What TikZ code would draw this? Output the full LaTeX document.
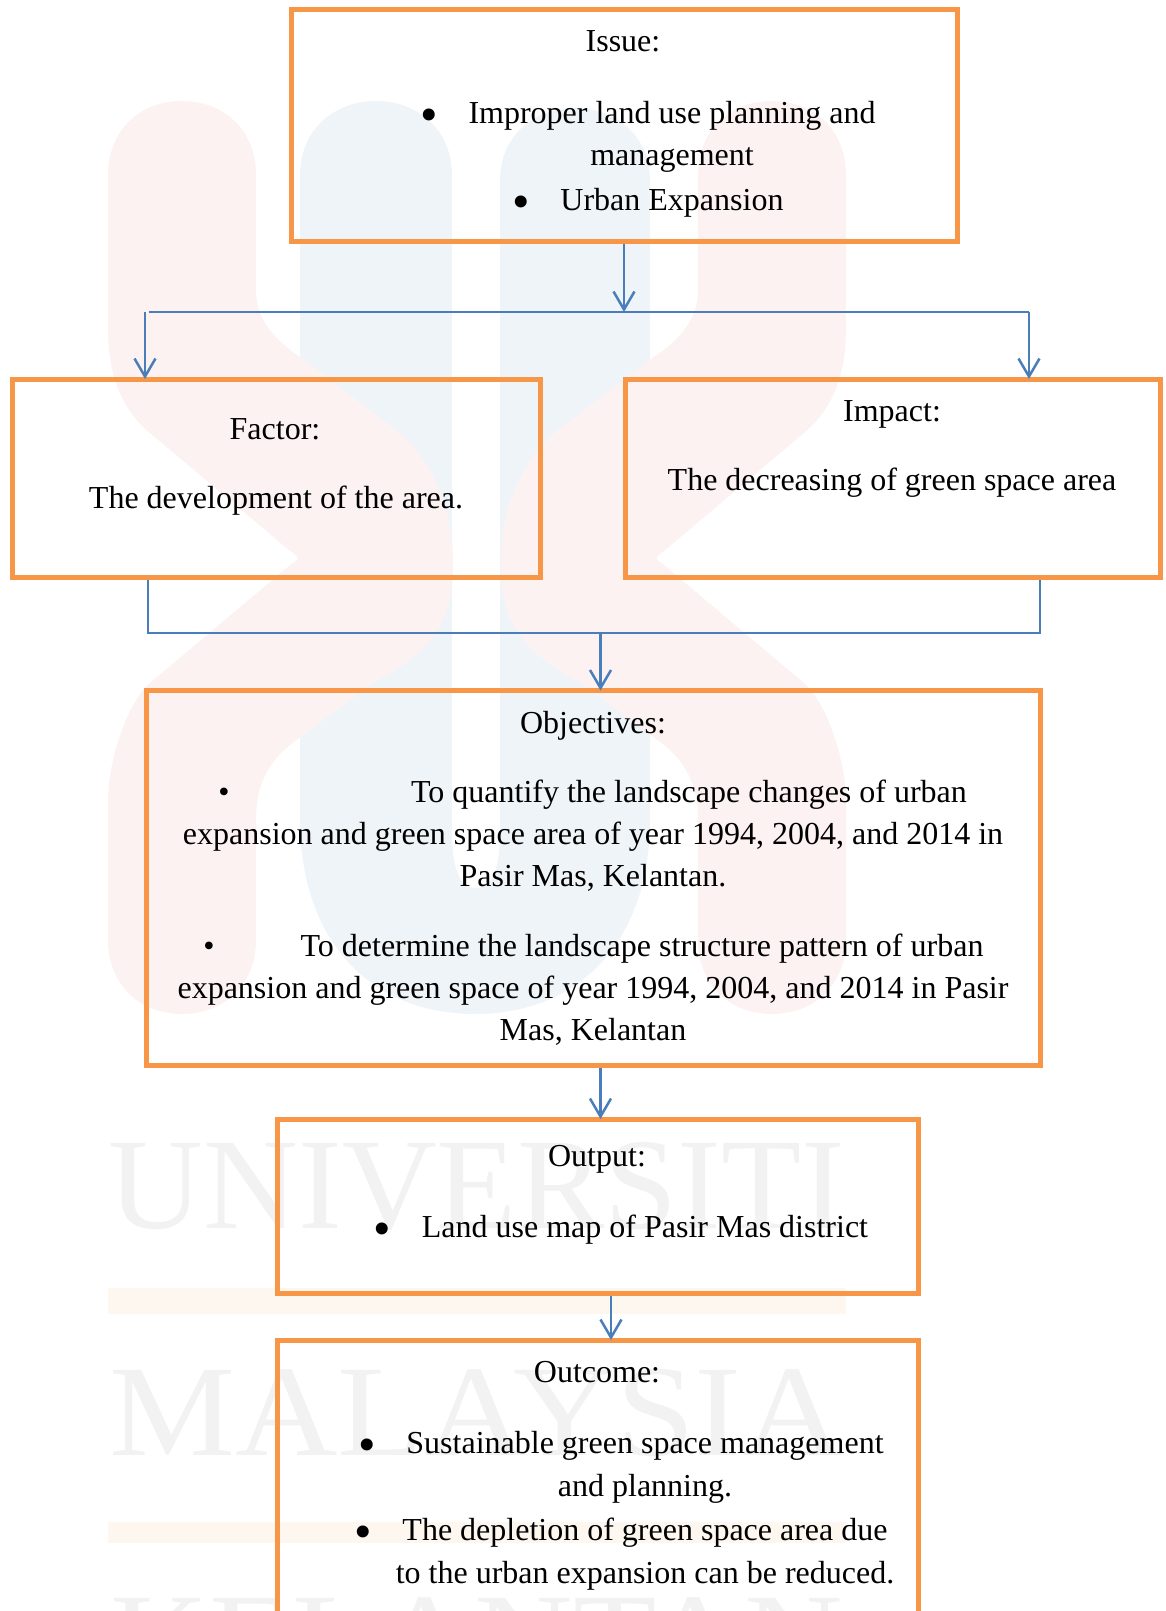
\documentclass[tikz,border=0pt]{standalone}
\usepackage{fontspec}
\usepackage{graphicx}
\setmainfont{Liberation Serif}
\usetikzlibrary{arrows.meta}

\definecolor{boxline}{HTML}{F79646}
\definecolor{linkline}{HTML}{4A7EBB}
\definecolor{wmred}{HTML}{FDF2F2}
\definecolor{wmblue}{HTML}{EFF4F8}
\definecolor{wmgrey}{HTML}{F2F2F2}
\definecolor{wmband}{HTML}{FEF7F0}

\tikzset{
  box/.style={draw=boxline,line width=5pt,inner sep=0pt},
  linetext/.style={anchor=base,inner sep=0pt,font=\fontsize{32}{36}\selectfont},
  bigdot/.style={anchor=base,inner sep=0pt,font=\fontsize{50}{50}\selectfont},
  smalldot/.style={anchor=base,inner sep=0pt,font=\fontsize{32}{36}\selectfont},
  wmtext/.style={anchor=base,inner sep=0pt,text=wmgrey,font=\fontsize{130}{130}\selectfont},
  linkbar/.style={draw=linkline,line width=2pt},
  linkarrow/.style={draw=linkline,line width=2.5pt,shorten >=-2.5pt,-{Straight Barb[length=18pt,width=21pt]}}
}

\newcommand{\redleg}{
  \fill[wmred] (108,175) .. controls (108,130) and (140,101) .. (182,101)
    .. controls (224,101) and (256,130) .. (256,175) -- (256,290)
    .. controls (256,320) and (275,340) .. (300,357) -- (400,433)
    .. controls (435,465) and (453,510) .. (453,565)
    .. controls (453,620) and (435,650) .. (373,683) -- (290,745)
    .. controls (265,765) and (256,790) .. (256,820) -- (256,940)
    .. controls (256,985) and (224,1014) .. (182,1014)
    .. controls (140,1014) and (108,985) .. (108,940) -- (108,800)
    .. controls (108,765) and (125,705) .. (150,683) -- (290,565)
    .. controls (300,558) and (300,558) .. (290,551) -- (150,433)
    .. controls (122,410) and (108,375) .. (108,330) -- cycle;
}

\begin{document}
\begin{tikzpicture}[x=1pt,y=-1pt]
  \useasboundingbox (0,0) rectangle (1166,1611);

  % watermark
  \fill[wmblue] (300,175) .. controls (300,130) and (334,101) .. (376,101)
    .. controls (418,101) and (452,130) .. (452,175) -- (452,830)
    .. controls (452,870) and (460,888) .. (476,888)
    .. controls (492,888) and (500,870) .. (500,830) -- (500,180)
    .. controls (500,137) and (533,108) .. (575,108)
    .. controls (617,108) and (650,137) .. (650,180) -- (650,820)
    .. controls (650,940) and (580,1014) .. (475,1014)
    .. controls (370,1014) and (300,940) .. (300,820) -- cycle;
  \redleg
  \begin{scope}[xshift=954pt,xscale=-1]
    \redleg
  \end{scope}
  \node[wmtext] (wmuni) at (477,1228) {\scalebox{1.01}[1]{UNIVERSITI}};
  \node[wmtext] (wmmal) at (477,1455) {\scalebox{1.09}[1]{MALAYSIA}};
  \node[wmtext] (wmkel) at (477,1683) {\scalebox{1.05}[1]{KELANTAN}};
  \fill[wmband] (108,1288) rectangle (846,1314);
  \fill[wmband] (108,1522) rectangle (846,1543);

  % boxes
  \node[box,minimum width=666pt,minimum height=231pt] (issue) at (624,125.5) {};
  \node[box,minimum width=528pt,minimum height=198pt] (factor) at (276,478) {};
  \node[box,minimum width=535pt,minimum height=198pt] (impact) at (892.5,478) {};
  \node[box,minimum width=894pt,minimum height=375pt] (objectives) at (593.5,878) {};
  \node[box,minimum width=641pt,minimum height=174pt] (output) at (597.5,1206) {};
  \node[box,minimum width=641pt,minimum height=360pt] (outcome) at (597.5,1520) {};

  % issue
  \node[linetext] (issuet) at (623,52) {Issue:};
  \node[bigdot] (issued1) at (429,131) {•};
  \node[linetext] (issue1) at (672,123) {Improper land use planning and};
  \node[linetext] (issue2) at (672,165) {management};
  \node[bigdot] (issued2) at (521,218) {•};
  \node[linetext] (issue3) at (672,210) {Urban Expansion};

  % factor and impact
  \node[linetext] (factort) at (275,439) {Factor:};
  \node[linetext] (factor1) at (276,508) {The development of the area.};
  \node[linetext] (impactt) at (892,421) {Impact:};
  \node[linetext] (impact1) at (892,490) {The decreasing of green space area};

  % objectives
  \node[linetext] (objt) at (593,733) {Objectives:};
  \node[smalldot] (objd1) at (224,802) {•};
  \node[linetext] (obj1) at (689,802) {To quantify the landscape changes of urban};
  \node[linetext] (obj2) at (593,844) {expansion and green space area of year 1994, 2004, and 2014 in};
  \node[linetext] (obj3) at (593,886) {Pasir Mas, Kelantan.};
  \node[smalldot] (objd2) at (209,956) {•};
  \node[linetext] (obj4) at (642,956) {To determine the landscape structure pattern of urban};
  \node[linetext] (obj5) at (593,998) {expansion and green space of year 1994, 2004, and 2014 in Pasir};
  \node[linetext] (obj6) at (593,1040) {Mas, Kelantan};

  % output
  \node[linetext] (outputt) at (597,1166) {Output:};
  \node[bigdot] (outputd) at (382,1245) {•};
  \node[linetext] (output1) at (645,1237) {Land use map of Pasir Mas district};

  % outcome
  \node[linetext] (outcomet) at (597,1382) {Outcome:};
  \node[bigdot] (outcomed1) at (367,1461) {•};
  \node[linetext] (outcome1) at (645,1453) {Sustainable green space management};
  \node[linetext] (outcome2) at (645,1496) {and planning.};
  \node[bigdot] (outcomed2) at (363,1548) {•};
  \node[linetext] (outcome3) at (645,1540) {The depletion of green space area due};
  \node[linetext] (outcome4) at (645,1583) {to the urban expansion can be reduced.};

  % connectors
  \coordinate (topmid) at (624,309.5);
  \coordinate (topbarl) at (149,312);
  \coordinate (topbarr) at (1029,312);
  \coordinate (topl) at (145,312);
  \coordinate (botl) at (148,633);
  \coordinate (botr) at (1040,633);
  \coordinate (botmid) at (600.5,633);
  \coordinate (lowmid) at (600.5,1000);
  \coordinate (lowout) at (611,1200);

  \draw[linkbar] (topbarl) -- (topbarr);
  \draw[linkbar] (factor.south -| botl) -- (botl) -- (botr) -- (impact.south -| botr);

  \foreach \from/\to in {issue.south/topmid,topl/factor.north -| topl,topbarr/impact.north -| topbarr,
      botmid/objectives.north -| botmid,objectives.south -| lowmid/output.north -| lowmid,
      output.south -| lowout/outcome.north -| lowout}
    \draw[linkarrow] (\from) -- (\to);
\end{tikzpicture}
\end{document}
